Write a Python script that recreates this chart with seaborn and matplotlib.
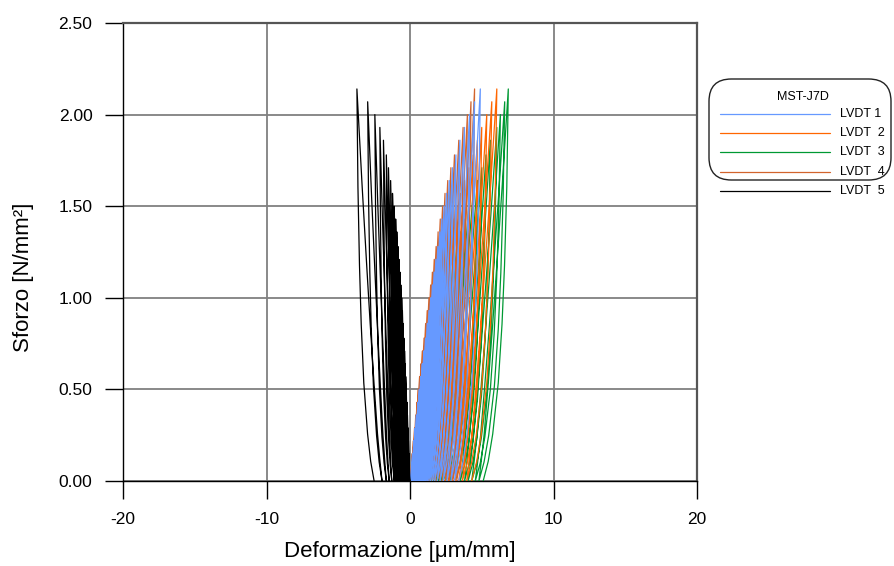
import numpy as np
import pandas as pd
import matplotlib
matplotlib.use("Agg")
import matplotlib.pyplot as plt
import seaborn as sns
from matplotlib.lines import Line2D
from matplotlib.patches import FancyBboxPatch

sns.set_theme(style="white")
plt.rcParams['font.family'] = ['Liberation Sans', 'DejaVu Sans']

# ---------------- data ----------------
# peak stress of each load cycle [N/mm2]
peak_stress = [0.15, 0.22, 0.29, 0.36, 0.43, 0.50, 0.57, 0.64, 0.71, 0.78,
               0.86, 0.93, 1.00, 1.07, 1.14, 1.21, 1.28, 1.36, 1.43, 1.50,
               1.57, 1.64, 1.71, 1.78, 1.86, 1.93, 2.00, 2.07, 2.14]

# strain at the peak of each cycle [um/mm]
peak_lvdt1 = [0.18, 0.27, 0.36, 0.45, 0.55, 0.65, 0.75, 0.86, 0.97, 1.08,
              1.20, 1.32, 1.44, 1.56, 1.68, 1.80, 1.94, 2.08, 2.22, 2.38,
              2.55, 2.74, 2.96, 3.20, 3.48, 3.80, 4.15, 4.50, 4.90]
peak_lvdt2 = [0.18, 0.27, 0.37, 0.48, 0.60, 0.72, 0.85, 0.99, 1.13, 1.28,
              1.44, 1.60, 1.77, 1.95, 2.14, 2.34, 2.55, 2.78, 3.02, 3.27,
              3.52, 3.80, 4.10, 4.40, 4.70, 5.00, 5.35, 5.70, 6.05]
peak_lvdt3 = [0.25, 0.38, 0.52, 0.66, 0.82, 0.98, 1.15, 1.32, 1.50, 1.70,
              1.90, 2.10, 2.30, 2.50, 2.75, 3.00, 3.25, 3.50, 3.80, 4.10,
              4.40, 4.70, 5.00, 5.30, 5.60, 6.05, 6.30, 6.60, 6.85]
peak_lvdt4 = [0.16, 0.24, 0.32, 0.40, 0.49, 0.58, 0.67, 0.77, 0.87, 0.98,
              1.09, 1.20, 1.32, 1.44, 1.56, 1.69, 1.82, 1.96, 2.11, 2.27,
              2.44, 2.63, 2.85, 3.10, 3.40, 3.70, 4.00, 4.25, 4.50]
peak_lvdt5 = [-0.08, -0.11, -0.15, -0.18, -0.22, -0.26, -0.30, -0.34, -0.38, -0.43,
              -0.48, -0.53, -0.58, -0.64, -0.70, -0.77, -0.84, -0.92, -1.00, -1.10,
              -1.22, -1.35, -1.50, -1.65, -1.85, -2.10, -2.45, -2.95, -3.70]

# residual strain after unloading of each cycle [um/mm]
res_lvdt1 = [0.08, 0.12, 0.17, 0.22, 0.27, 0.32, 0.37, 0.42, 0.48, 0.55,
             0.62, 0.69, 0.77, 0.85, 0.93, 1.01, 1.10, 1.20, 1.31, 1.43,
             1.57, 1.72, 1.90, 2.10, 2.32, 2.57, 2.85, 3.10, 3.40]
res_lvdt2 = [0.08, 0.13, 0.19, 0.25, 0.31, 0.38, 0.45, 0.53, 0.61, 0.70,
             0.80, 0.90, 1.01, 1.13, 1.26, 1.40, 1.55, 1.71, 1.88, 2.06,
             2.25, 2.45, 2.67, 2.90, 3.15, 3.40, 3.65, 3.95, 4.30]
res_lvdt3 = [0.15, 0.22, 0.30, 0.38, 0.47, 0.56, 0.66, 0.77, 0.88, 1.00,
             1.12, 1.25, 1.38, 1.52, 1.67, 1.82, 1.98, 2.15, 2.32, 2.50,
             2.80, 3.15, 3.50, 3.80, 4.05, 4.30, 4.55, 4.80, 5.10]
res_lvdt4 = [0.06, 0.09, 0.13, 0.17, 0.21, 0.26, 0.31, 0.36, 0.42, 0.48,
             0.55, 0.62, 0.70, 0.78, 0.87, 0.96, 1.06, 1.17, 1.29, 1.42,
             1.56, 1.71, 1.88, 2.06, 2.26, 2.48, 2.72, 2.98, 3.25]
res_lvdt5 = [-0.03, -0.05, -0.07, -0.09, -0.11, -0.13, -0.15, -0.18, -0.20, -0.23,
             -0.26, -0.29, -0.32, -0.36, -0.40, -0.45, -0.50, -0.56, -0.62, -0.70,
             -0.78, -0.88, -0.98, -1.10, -1.27, -1.45, -1.65, -1.95, -2.50]

# shape of one branch: fraction of stress vs fraction of strain range
branch_stress_frac = [0.0, 0.05, 0.12, 0.25, 0.40, 0.55, 0.75, 1.0]
loading_strain_frac = [0.0, 0.08, 0.18, 0.32, 0.47, 0.61, 0.79, 1.0]
unloading_strain_frac = [0.0, 0.20, 0.38, 0.60, 0.75, 0.85, 0.94, 1.0]

sensor_names = ["LVDT 1", "LVDT  2", "LVDT  3", "LVDT  4", "LVDT  5"]
sensor_colors = ["#6699FF", "#FF6600", "#009933", "#D2642D", "#000000"]
legend_title = "MST-J7D"
x_ticks = [-20, -10, 0, 10, 20]
y_ticks = [0.0, 0.5, 1.0, 1.5, 2.0, 2.5]

peaks = [peak_lvdt1, peak_lvdt2, peak_lvdt3, peak_lvdt4, peak_lvdt5]
residuals = [res_lvdt1, res_lvdt2, res_lvdt3, res_lvdt4, res_lvdt5]

# ---------------- build long table ----------------
sf = np.array(branch_stress_frac)
lf = np.array(loading_strain_frac)
uf = np.array(unloading_strain_frac)
rows = []
for name, pk, rs in zip(sensor_names, peaks, residuals):
    start = 0.0
    order = 0
    for ps, e_pk, e_res in zip(peak_stress, pk, rs):
        # loading branch
        for f_s, f_e in zip(sf, lf):
            rows.append((name, order, start + (e_pk - start) * f_e, ps * f_s))
            order += 1
        # unloading branch
        for f_s, f_e in zip(sf[::-1], uf[::-1]):
            rows.append((name, order, e_res + (e_pk - e_res) * f_e, ps * f_s))
            order += 1
        start = e_res
df = pd.DataFrame(rows, columns=["sensor", "order", "strain", "stress"])

# ---------------- figure ----------------
fig = plt.figure(figsize=(8.94, 5.66), dpi=100)
ax = fig.add_axes([123/894, 1 - 481/566, (697 - 123)/894, (481 - 23)/566])

draw_order = ["LVDT  3", "LVDT  2", "LVDT  4", "LVDT 1", "LVDT  5"]
palette = dict(zip(sensor_names, sensor_colors))
sns.lineplot(data=df, x="strain", y="stress", hue="sensor", hue_order=draw_order,
             palette=palette, estimator=None, sort=False, lw=0.9, legend=False,
             ax=ax, zorder=3)

ax.set_xlim(-20, 20)
ax.set_ylim(0, 2.5)
ax.set_xticks(x_ticks)
ax.set_yticks(y_ticks)
ax.set_yticklabels([f"{v:.2f}" for v in y_ticks])
ax.set_xticklabels([f"{v:d}" for v in x_ticks])
ax.grid(True, color="#808080", lw=1.3)
ax.set_axisbelow(True)
for s in ["left", "bottom"]:
    ax.spines[s].set_color("black")
    ax.spines[s].set_linewidth(1.0)
for s in ["top", "right"]:
    ax.spines[s].set_color("#555555")
    ax.spines[s].set_linewidth(1.6)
ax.tick_params(axis="both", direction="out", length=13, width=1.0, color="black",
               labelsize=12.5, labelcolor="black", left=True, bottom=True, pad=9)
ax.set_xlabel("Deformazione [\u03bcm/mm]", fontsize=16, color="black")
ax.set_ylabel("Sforzo [N/mm\u00b2]", fontsize=16, color="black")
ax.xaxis.set_label_coords((400 - 123) / 574, (481 - 541) / 458)
ax.yaxis.set_label_coords((34 - 123) / 574, (481 - 277) / 458)

# ---------------- legend (rounded box at right) ----------------
def fx(px):
    return px / 894

def fy(py):
    return 1 - py / 566

box = FancyBboxPatch((fx(709), fy(180)), fx(891) - fx(709), fy(79) - fy(180),
                     boxstyle="round,pad=0.0,rounding_size=0.025",
                     transform=fig.transFigure, fc="white", ec="#222222", lw=1.0,
                     mutation_aspect=894/566)
fig.add_artist(box)
fig.text(fx(803), fy(97), legend_title, fontsize=9, color="black", va="center", ha="center")
row_y = [114, 133, 152, 172, 191]
for name, col, yy in zip(sensor_names, sensor_colors, row_y):
    fig.add_artist(Line2D([fx(720), fx(830)], [fy(yy), fy(yy)], color=col, lw=0.9,
                          transform=fig.transFigure))
    fig.text(fx(840), fy(yy), name, fontsize=9, color="black", va="center", ha="left")

fig.savefig("out.png", dpi=100)
